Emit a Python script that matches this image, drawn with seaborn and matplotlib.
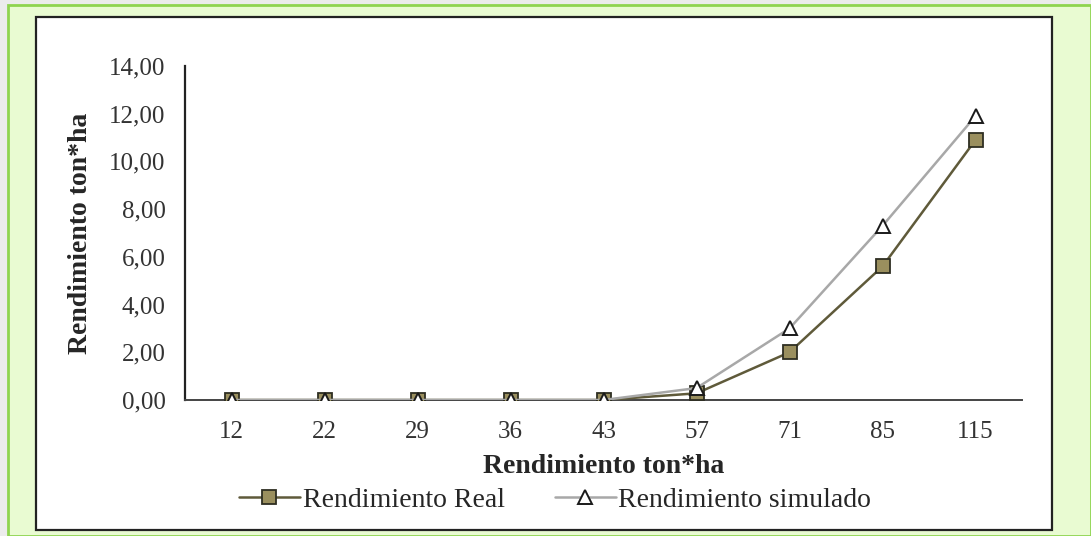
import matplotlib
matplotlib.use("Agg")
from matplotlib import pyplot as plt
from matplotlib.patches import Rectangle
from matplotlib.ticker import FuncFormatter
import seaborn as sns
import pandas as pd

# datos
categorias = ["12", "22", "29", "36", "43", "57", "71", "85", "115"]
rend_real = [0, 0, 0, 0, 0, 0.28, 2.0, 5.6, 10.9]
rend_simulado = [0, 0, 0, 0, 0, 0.5, 3.0, 7.3, 11.9]

df = pd.DataFrame({"x": categorias, "real": rend_real, "sim": rend_simulado})

sns.set_style("white")
plt.rcParams["font.family"] = ["Liberation Serif", "DejaVu Serif"]

W, H = 1091, 536
fig = plt.figure(figsize=(W / 100, H / 100), dpi=100, facecolor="#ececec")

# marco verde y panel blanco
fig.patches.append(Rectangle((8 / W, 0), (W - 8) / W, (H - 5) / H, transform=fig.transFigure,
                             facecolor="#e9fbd2", edgecolor="#8fd450", linewidth=2, zorder=-3))
fig.patches.append(Rectangle((36 / W, 6 / H), (1052 - 36) / W, (530 - 17) / H, transform=fig.transFigure,
                             facecolor="white", edgecolor="#222222", linewidth=1.6, zorder=-2))

ax = fig.add_axes([185 / W, 1 - 400 / H, (1022 - 185) / W, (400 - 66) / H])
ax.set_facecolor("none")

sns.lineplot(data=df, x="x", y="real", ax=ax, color="#5f5a3a", linewidth=1.8,
             marker="s", markersize=9.5, markerfacecolor="#9a8f5e", markeredgecolor="#2e2e22",
             markeredgewidth=1.3, label="Rendimiento Real", zorder=3)
sns.lineplot(data=df, x="x", y="sim", ax=ax, color="#a8a8a8", linewidth=1.8,
             marker="^", markersize=10, markerfacecolor="white", markeredgecolor="#1a1a1a",
             markeredgewidth=1.4, label="Rendimiento simulado", zorder=4)

ax.set_ylim(0, 14)
ax.set_xlim(-0.5, 8.5)
ax.set_yticks(range(0, 15, 2))
ax.yaxis.set_major_formatter(FuncFormatter(lambda v, p: f"{v:.2f}".replace(".", ",")))
ax.tick_params(axis="both", labelsize=18, colors="#333333", length=0)
ax.tick_params(axis="x", pad=15)
ax.tick_params(axis="y", pad=14)

for s in ["top", "right"]:
    ax.spines[s].set_visible(False)
ax.spines["left"].set_color("#222222")
ax.spines["bottom"].set_color("#444444")
ax.spines["left"].set_linewidth(1.6)
ax.spines["bottom"].set_linewidth(1.4)

ax.set_xlabel("Rendimiento ton*ha", fontsize=20, fontweight="bold", labelpad=8)
ax.set_ylabel("Rendimiento ton*ha", fontsize=20, fontweight="bold", labelpad=12)

ax.get_legend().remove()
h, l = ax.get_legend_handles_labels()
fig.legend(h, l, loc="center", bbox_to_anchor=(555 / W, 1 - 500 / H), ncol=2, frameon=False,
           fontsize=20, handlelength=2.2, handletextpad=0.1, columnspacing=1.8)

fig.savefig("out.png", dpi=100, facecolor=fig.get_facecolor())
